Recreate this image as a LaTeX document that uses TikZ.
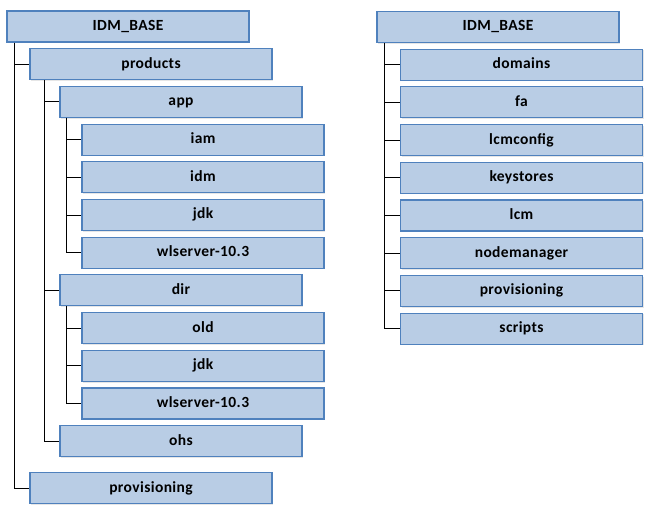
\documentclass[tikz,border=0pt]{standalone}
\usepackage{fontspec}
\setmainfont{Carlito}[LetterSpace=2.5]
\usepackage{tikz}
\usetikzlibrary{positioning, shadows}
\definecolor{boxfill}{HTML}{B9CDE5}
\definecolor{boxline}{HTML}{4F81BD}

\begin{document}
\begin{tikzpicture}[
		x=1pt, y=-1pt,
		node distance=37.7pt,
		folder/.style={rectangle, draw=boxline, fill=boxfill, line width=1.1pt,
				minimum width=242pt, minimum height=31pt, inner sep=0pt,
				text height=11pt, text depth=3pt,
				font=\fontsize{15.5}{18}\selectfont\bfseries,
				drop shadow={shadow xshift=1.2pt, shadow yshift=-1.2pt, opacity=0.2}},
		tree/.style={line width=0.9pt, black}
	]
	\useasboundingbox (0,0) rectangle (655,518);
	% left tree
	\node[folder] (base) at (128,26.5) {IDM\_BASE};
	\node[folder] (products) [below of=base, xshift=23pt] {products};
	\node[folder] (app) [below of=products, xshift=30pt] {app};
	\node[folder] (iam) [below of=app, xshift=22pt] {iam};
	\node[folder] (idm) [below of=iam] {idm};
	\node[folder] (jdkA) [below of=idm] {jdk};
	\node[folder] (wlsA) [below of=jdkA] {wlserver-10.3};
	\node[folder] (dir) [below of=wlsA, xshift=-22pt] {dir};
	\node[folder] (old) [below of=dir, xshift=22pt] {old};
	\node[folder] (jdkD) [below of=old] {jdk};
	\node[folder] (wlsD) [below of=jdkD] {wlserver-10.3};
	\node[folder] (ohs) [below of=wlsD, xshift=-22pt] {ohs};
	\node[folder] (prov) at (151,488) {provisioning};
	\foreach \c in {products, prov}
		\draw[tree] ([xshift=8pt]base.south west) |- (\c.west);
	\foreach \c in {app, dir, ohs}
		\draw[tree] ([xshift=15pt]products.south west) |- (\c.west);
	\foreach \c in {iam, idm, jdkA, wlsA}
		\draw[tree] ([xshift=7pt]app.south west) |- (\c.west);
	\foreach \c in {old, jdkD, wlsD}
		\draw[tree] ([xshift=7pt]dir.south west) |- (\c.west);
	% right tree
	\node[folder] (rbase) at (498,27) {IDM\_BASE};
	\foreach \n [count=\i] in {domains, fa, lcmconfig, keystores, lcm, nodemanager, provisioning, scripts} {
			\node[folder] (r\i) at (521.5, 27+37.7*\i) {\n};
			\draw[tree] ([xshift=8pt]rbase.south west) |- (r\i.west);
		}
\end{tikzpicture}
\end{document}
